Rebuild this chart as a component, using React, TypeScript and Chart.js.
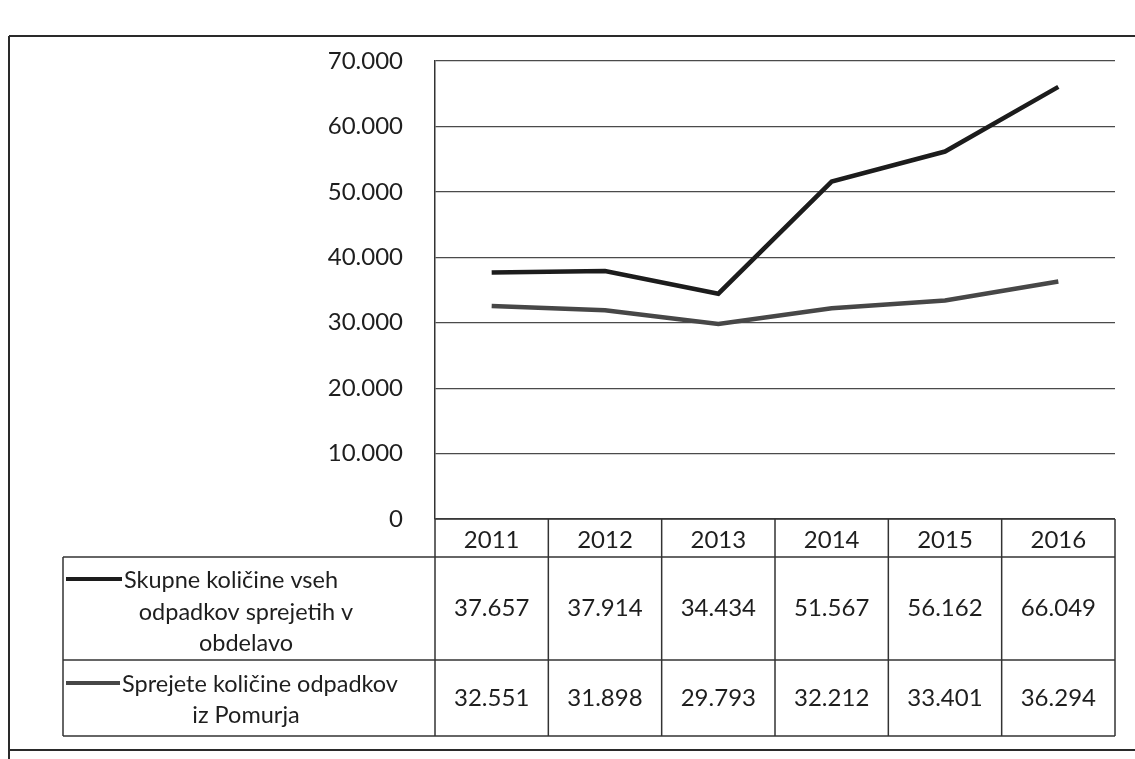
import React, { useEffect, useRef } from "react";
import { Chart, registerables } from "chart.js";

Chart.register(...registerables);

const years = ["2011", "2012", "2013", "2014", "2015", "2016"];
const totalWaste = [37657, 37914, 34434, 51567, 56162, 66049];
const pomurjeWaste = [32551, 31898, 29793, 32212, 33401, 36294];
const seriesNames = [
  ["Skupne količine vseh", "odpadkov sprejetih v", "obdelavo"],
  ["Sprejete količine odpadkov", "iz Pomurja"],
];
const yTicks = [0, 10000, 20000, 30000, 40000, 50000, 60000, 70000];

const FONT = "Lato, 'Liberation Sans', sans-serif";
const COLORS = ["#1c1c1c", "#474747"];

const fmt = (v: number) => {
  if (v === 0) return "0";
  const s = String(Math.round(v));
  return s.replace(/\B(?=(\d{3})+(?!\d))/g, ".");
};

const tablePlugin = {
  id: "dataTable",
  afterDraw(chart: any) {
    const ctx = chart.ctx as CanvasRenderingContext2D;
    const area = chart.chartArea;
    const xs = chart.scales.x;
    const centers = years.map((_, i) => xs.getPixelForValue(i));
    const half = (centers[1] - centers[0]) / 2;
    const edges = [area.left, ...centers.map((c) => c + half)];
    const right = edges[edges.length - 1];
    const legendLeft = 63;
    const y0 = area.bottom;
    const y1 = y0 + 38;
    const y2 = y1 + 103;
    const y3 = y2 + 76;

    ctx.save();
    ctx.strokeStyle = "#333";
    ctx.lineWidth = 1.5;
    const line = (xa: number, ya: number, xb: number, yb: number) => {
      ctx.beginPath();
      ctx.moveTo(xa, ya);
      ctx.lineTo(xb, yb);
      ctx.stroke();
    };
    line(area.left, y0, right, y0);
    line(legendLeft, y1, right, y1);
    line(legendLeft, y2, right, y2);
    line(legendLeft, y3, right, y3);
    edges.forEach((x) => line(x, y0, x, y3));
    line(legendLeft, y1, legendLeft, y3);

    // outer frame
    ctx.lineWidth = 2;
    ctx.strokeStyle = "#2a2a2a";
    line(9, 36, 1135, 36);
    line(9, 36, 9, 759);
    line(9, 750, 1135, 750);

    ctx.fillStyle = "#1e1e1e";
    ctx.font = `24px ${FONT}`;
    ctx.textAlign = "center";
    ctx.textBaseline = "middle";
    centers.forEach((c, i) => {
      ctx.fillText(years[i], c, (y0 + y1) / 2 + 2);
      ctx.fillText(fmt(totalWaste[i]), c, (y1 + y2) / 2);
      ctx.fillText(fmt(pomurjeWaste[i]), c, (y2 + y3) / 2);
    });

    // legend cells
    ctx.font = `23.5px ${FONT}`;
    const midLegend = (legendLeft + area.left) / 2 - 3;
    // series 1
    ctx.strokeStyle = COLORS[0];
    ctx.lineWidth = 4;
    line(66, y1 + 22, 122, y1 + 22);
    ctx.textAlign = "left";
    ctx.fillText(seriesNames[0][0], 124, y1 + 23);
    ctx.textAlign = "center";
    ctx.fillText(seriesNames[0][1], midLegend, y1 + 55);
    ctx.fillText(seriesNames[0][2], midLegend, y1 + 86);
    // series 2
    ctx.strokeStyle = COLORS[1];
    line(66, y2 + 23, 120, y2 + 23);
    ctx.textAlign = "left";
    ctx.fillText(seriesNames[1][0], 122, y2 + 24);
    ctx.textAlign = "center";
    ctx.fillText(seriesNames[1][1], midLegend, y2 + 55);
    ctx.restore();
  },
};

export default function App() {
  const ref = useRef<HTMLCanvasElement | null>(null);
  useEffect(() => {
    if (!ref.current) return;
    const chart = new Chart(ref.current, {
      type: "line",
      data: {
        labels: years,
        datasets: [
          {
            label: seriesNames[0].join(" "),
            data: totalWaste,
            borderColor: COLORS[0],
            borderWidth: 4.5,
            pointRadius: 0,
            tension: 0,
          },
          {
            label: seriesNames[1].join(" "),
            data: pomurjeWaste,
            borderColor: COLORS[1],
            borderWidth: 4.5,
            pointRadius: 0,
            tension: 0,
          },
        ],
      },
      options: {
        animation: false,
        responsive: true,
        maintainAspectRatio: false,
        layout: { padding: { left: 0, top: 61, right: 20, bottom: 240 } },
        plugins: { legend: { display: false }, tooltip: { enabled: false } },
        scales: {
          x: { display: false, offset: true },
          y: {
            min: 0,
            max: 70000,
            afterFit: (s: any) => {
              s.width = 435;
            },
            afterBuildTicks: (s: any) => {
              s.ticks = yTicks.map((v) => ({ value: v }));
            },
            ticks: {
              callback: (v: any) => fmt(Number(v)),
              color: "#1e1e1e",
              font: { family: FONT, size: 24 },
              padding: 32,
            },
            grid: { color: "#4a4a4a", lineWidth: 1.2, drawTicks: false },
            border: { display: true, color: "#333", width: 1.5 },
          },
        },
      },
      plugins: [tablePlugin],
    });
    return () => chart.destroy();
  }, []);
  return (
    <div style={{ position: "fixed", left: 0, top: 0, width: 1135, height: 759, background: "#fff" }}>
      <canvas ref={ref} />
    </div>
  );
}
